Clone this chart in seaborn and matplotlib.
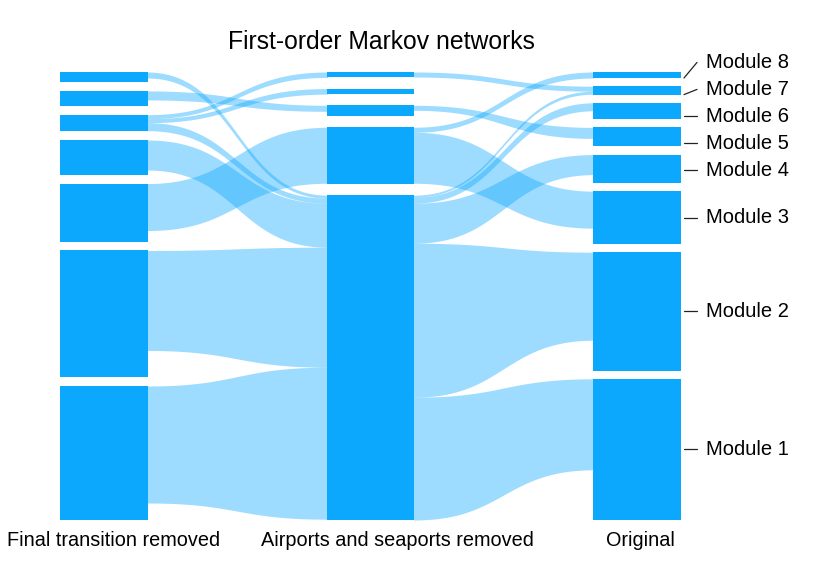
import numpy as np
import matplotlib
matplotlib.use("Agg")
import matplotlib.pyplot as plt
import seaborn as sns

# module flow (% of total) per network, modules listed top to bottom
final_flow = [2.6, 3.8, 4.2, 8.75, 14.6, 31.75, 33.5]
airports_flow = [1.35, 1.4, 2.7, 14.2, 81.2]
original_flow = [1.5, 2.1, 4.1, 4.75, 7.1, 13.2, 29.6, 35.3]
original_labels = ["Module 8", "Module 7", "Module 6", "Module 5",
                   "Module 4", "Module 3", "Module 2", "Module 1"]
network_names = ["Final transition removed", "Airports and seaports removed", "Original"]

# streams final transition removed -> airports removed
# (source module, target module, flow at source end, flow at target end)
a_src = [0, 1, 2, 2, 2, 3, 4, 5, 6]
a_dst = [4, 2, 0, 1, 4, 4, 3, 4, 4]
a_w_src = [1.5, 2.25, 1.0, 1.0, 2.0, 7.5, 11.75, 25.0, 29.25]
a_w_dst = [0.75, 1.5, 1.35, 1.4, 1.25, 11.0, 14.0, 30.0, 38.0]

# streams airports removed -> original
b_src = [0, 2, 3, 3, 4, 4, 4, 4, 4]
b_dst = [1, 3, 0, 5, 1, 2, 4, 6, 7]
b_w_src = [1.25, 1.25, 1.25, 12.75, 0.5, 1.5, 10.0, 38.5, 30.7]
b_w_dst = [1.25, 2.75, 1.5, 9.25, 0.75, 2.0, 5.0, 22.0, 22.75]

blue = "#0ca8fe"
total_h = 112.0   # column height incl. gaps, in flow units
bar_w = 0.33
px = (2 + bar_w) / 621   # one pixel in x data units


def layout(flows):
    gap = (total_h - sum(flows)) / (len(flows) - 1)
    return np.concatenate([[0.0], np.cumsum(np.array(flows[:-1]) + gap)])


def bezier(x0, x1, y0, y1, n=100):
    t = np.linspace(0, 1, n)
    x = x0 + (x1 - x0) * (1.5 * t - 1.5 * t ** 2 + t ** 3)
    y = y0 + (y1 - y0) * (3 * t ** 2 - 2 * t ** 3)
    return x, y


def draw_streams(ax, col, tops_s, tops_d, src, dst, ws, wd):
    y_src, y_dst = {}, {}
    off = {}
    for i in sorted(range(len(src)), key=lambda k: (src[k], dst[k])):
        o = off.get(src[i], 0.0)
        y_src[i] = tops_s[src[i]] + o
        off[src[i]] = o + ws[i]
    off = {}
    for i in sorted(range(len(src)), key=lambda k: (dst[k], src[k])):
        o = off.get(dst[i], 0.0)
        y_dst[i] = tops_d[dst[i]] + o
        off[dst[i]] = o + wd[i]
    x0, x1 = col + bar_w - px, col + 1 + px   # tuck ends under the bars
    for i in range(len(src)):
        x, top = bezier(x0, x1, y_src[i], y_dst[i])
        _, bot = bezier(x0, x1, y_src[i] + ws[i], y_dst[i] + wd[i])
        ax.fill_between(x, top, bot, color=blue, alpha=0.4, lw=0)


def spread(centers, min_gap):
    # merge overlapping label clusters, each centred on its members
    clusters = []
    start = lambda cl: np.mean([centers[j] for j in cl]) - min_gap * (len(cl) - 1) / 2
    for i in range(len(centers)):
        clusters.append([i])
        while len(clusters) > 1 and start(clusters[-2]) + min_gap * len(clusters[-2]) > start(clusters[-1]):
            last = clusters.pop()
            clusters[-1] = clusters[-1] + last
    pos = np.zeros(len(centers))
    for cl in clusters:
        s = start(cl)
        for k, j in enumerate(cl):
            pos[j] = s + k * min_gap
    return pos


sns.set_theme(style="white")
plt.rcParams["font.family"] = ["Liberation Sans", "DejaVu Sans"]

fig = plt.figure(figsize=(8.3, 5.87), dpi=100)
ax = fig.add_axes([60 / 830, 67 / 587, 621 / 830, 448 / 587])

columns = [final_flow, airports_flow, original_flow]
tops = [layout(f) for f in columns]

draw_streams(ax, 0, tops[0], tops[1], a_src, a_dst, a_w_src, a_w_dst)
draw_streams(ax, 1, tops[1], tops[2], b_src, b_dst, b_w_src, b_w_dst)

for c, (flows, t) in enumerate(zip(columns, tops)):
    ax.bar(c + bar_w / 2, flows, width=bar_w, bottom=t, color=blue, lw=0)

ax.set_xlim(0, 2 + bar_w)
ax.set_ylim(total_h, 0)
ax.axis("off")

# module labels on the right
o_tops = tops[2]
o_flow = np.array(original_flow)
centers = o_tops + o_flow / 2
label_y = spread(list(centers), 6.75)
for name, ly, t, f in zip(original_labels, label_y, o_tops, o_flow):
    sy = min(max(ly, t), t + f)
    if f < 3:   # thin modules: lead line starts from the bottom edge
        sy = t + f
    ax.plot([2 + bar_w + 3 * px, 2 + bar_w + 16 * px], [sy, ly],
            color="#222222", lw=0.9, clip_on=False)
    ax.text(2 + bar_w + 25 * px, ly, name, ha="left", va="center",
            fontsize=14.5, color="black", clip_on=False)

# network names under the columns
for name, xc in zip(network_names, [113.5, 397, 640]):
    fig.text(xc / 830, 1 - 540 / 587, name, ha="center", va="center",
             fontsize=14.3, color="black")

fig.text(381.7 / 830, 1 - 42 / 587, "First-order Markov networks",
         ha="center", va="center", fontsize=17.8, color="black")

fig.savefig("out.png", dpi=100, facecolor="white")
